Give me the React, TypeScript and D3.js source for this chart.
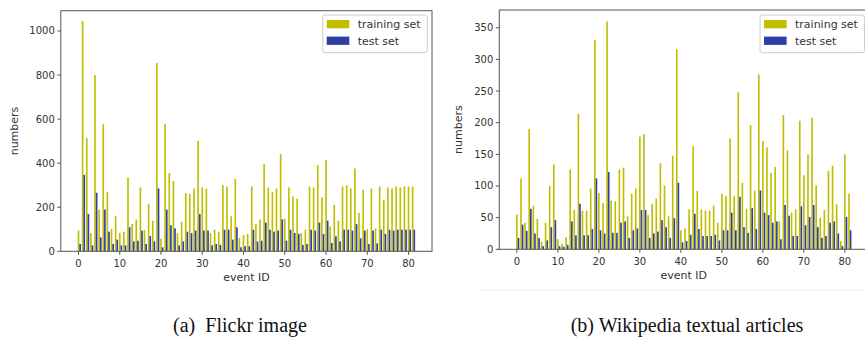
import * as d3 from "d3";

// ── Data ──────────────────────────────────────────────────────────────────────

const eventIds = d3.range(82);

const flickrTrain = [
  94, 1045, 514, 82, 800, 189, 577, 270, 101, 159, 83, 89, 335, 124, 144, 290, 97, 214, 139, 855,
  57, 577, 355, 320, 82, 134, 264, 260, 285, 501, 290, 285, 83, 98, 89, 300, 294, 159, 329, 60,
  74, 79, 294, 124, 144, 396, 290, 270, 285, 441, 148, 290, 249, 239, 83, 98, 294, 290, 391, 245,
  415, 113, 210, 139, 294, 300, 285, 376, 174, 279, 101, 285, 104, 294, 234, 290, 285, 294, 290, 294,
  294, 294,
];
const flickrTest = [
  33, 347, 169, 27, 266, 63, 190, 89, 33, 53, 27, 27, 109, 45, 48, 94, 33, 69, 45, 285,
  18, 189, 118, 104, 27, 45, 89, 83, 94, 169, 94, 94, 27, 33, 29, 98, 98, 53, 109, 18,
  23, 23, 98, 44, 48, 130, 98, 89, 94, 145, 48, 98, 83, 79, 29, 33, 98, 94, 130, 79,
  139, 38, 68, 45, 98, 98, 94, 124, 59, 94, 33, 94, 36, 98, 79, 98, 94, 98, 98, 98,
  98, 98,
];

const wikiTrain = [
  55, 112, 42, 190, 69, 48, 12, 42, 100, 134, 16, 9, 19, 126, 62, 214, 61, 61, 96, 331,
  89, 73, 360, 77, 76, 126, 129, 52, 88, 96, 178, 182, 54, 72, 80, 136, 101, 52, 148, 316,
  30, 33, 63, 163, 92, 63, 61, 61, 69, 42, 88, 84, 175, 84, 248, 105, 64, 196, 93, 276,
  171, 161, 121, 130, 44, 212, 156, 58, 63, 203, 117, 150, 208, 101, 50, 62, 124, 132, 71, 13,
  150, 88,
];
const wikiTest = [
  18, 39, 29, 64, 25, 18, 5, 14, 35, 46, 5, 4, 7, 44, 22, 72, 22, 22, 32, 112,
  30, 25, 122, 26, 26, 42, 44, 18, 30, 33, 62, 62, 18, 25, 28, 46, 35, 18, 49, 105,
  11, 13, 23, 56, 32, 21, 21, 21, 23, 14, 30, 30, 58, 30, 83, 35, 26, 65, 32, 93,
  58, 54, 42, 44, 16, 70, 53, 21, 21, 68, 38, 51, 70, 35, 18, 21, 42, 44, 25, 5,
  51, 30,
];

const xTicks = [0, 10, 20, 30, 40, 50, 60, 70, 80];
const flickrYTicks = [0, 200, 400, 600, 800, 1000];
const wikiYTicks = [0, 50, 100, 150, 200, 250, 300, 350];
const seriesNames = ["training set", "test set"];

// ── Style ─────────────────────────────────────────────────────────────────────

const TRAIN_COLOR = "#bfbf00";
const TEST_COLOR = "#2f3fa6";
const SPINE = "#555";
const FONT = "DejaVu Sans, sans-serif";
const BAR_W = 0.4;

// ── Panel ─────────────────────────────────────────────────────────────────────

interface PanelProps {
  train: number[];
  test: number[];
  yTicks: number[];
  yMax: number;
  left: number;
  right: number;
  top: number;
  bottom: number;
  legendX: number;
  ylabelX: number;
}

function Panel({ train, test, yTicks, yMax, left, right, top, bottom, legendX, ylabelX }: PanelProps) {
  const x = d3.scaleLinear().domain([-4.29, 85.69]).range([left, right]);
  const y = d3.scaleLinear().domain([0, yMax]).range([bottom, top]);
  const cx = (left + right) / 2;
  const cy = (top + bottom) / 2;

  return (
    <g fontFamily={FONT}>
      {eventIds.map((i) => (
        <g key={i}>
          <rect
            x={x(i - BAR_W / 2)}
            width={x(BAR_W) - x(0)}
            y={y(train[i])}
            height={y(0) - y(train[i])}
            fill={TRAIN_COLOR}
          />
          <rect
            x={x(i + BAR_W / 2)}
            width={x(BAR_W) - x(0)}
            y={y(test[i])}
            height={y(0) - y(test[i])}
            fill={TEST_COLOR}
          />
        </g>
      ))}

      {/* frame */}
      <rect x={left} y={top} width={right - left} height={bottom - top} fill="none" stroke={SPINE} strokeWidth={1} />

      {/* y axis */}
      {yTicks.map((t) => (
        <g key={t}>
          <line x1={left - 3.5} x2={left} y1={y(t)} y2={y(t)} stroke={SPINE} />
          <text x={left - 6} y={y(t)} dy="0.35em" textAnchor="end" fontSize={10} fill="#333">
            {t}
          </text>
        </g>
      ))}

      {/* x axis */}
      {xTicks.map((t) => (
        <g key={t}>
          <line x1={x(t)} x2={x(t)} y1={bottom} y2={bottom + 3.5} stroke={SPINE} />
          <text x={x(t)} y={bottom + 16} textAnchor="middle" fontSize={10} fill="#333">
            {t}
          </text>
        </g>
      ))}

      <text x={cx} y={bottom + 30} textAnchor="middle" fontSize={11} fill="#333">
        event ID
      </text>
      <text
        transform={`translate(${ylabelX},${cy}) rotate(-90)`}
        textAnchor="middle"
        dy="0.35em"
        fontSize={11}
        fill="#333"
      >
        numbers
      </text>

      {/* legend */}
      <g transform={`translate(${legendX},15)`}>
        <rect x={0} y={0} width={104.6} height={37.7} rx={2.5} fill="#fff" fillOpacity={0.85} stroke="#ccc" />
        {seriesNames.map((name, k) => (
          <g key={name} transform={`translate(0,${9.2 + k * 16.6})`}>
            <rect x={4} y={-4.2} width={22.6} height={8.3} fill={k === 0 ? TRAIN_COLOR : TEST_COLOR} />
            <text x={35} y={0} dy="0.35em" fontSize={11} fill="#333">
              {name}
            </text>
          </g>
        ))}
      </g>
    </g>
  );
}

// ── App ───────────────────────────────────────────────────────────────────────

export default function App() {
  return (
    <div style={{ position: "absolute", left: 0, top: 0 }}>
      <svg width={865} height={339} style={{ display: "block", background: "#fff" }}>
        <Panel
          train={flickrTrain}
          test={flickrTest}
          yTicks={flickrYTicks}
          yMax={1092}
          left={60.8}
          right={432}
          top={10.7}
          bottom={251.3}
          legendX={322.7}
          ylabelX={14}
        />
        <Panel
          train={wikiTrain}
          test={wikiTest}
          yTicks={wikiYTicks}
          yMax={378}
          left={499.3}
          right={868.2}
          top={10}
          bottom={249.3}
          legendX={760}
          ylabelX={458}
        />
        <line x1={480} x2={865} y1={290} y2={290} stroke="#ececec" />

        <text x={240} y={332} textAnchor="middle" fontFamily="Liberation Serif, serif" fontSize={20} fill="#111" xmlSpace="preserve">
          (a)  Flickr image
        </text>
        <text x={687} y={332} textAnchor="middle" fontFamily="Liberation Serif, serif" fontSize={20} fill="#111">
          (b) Wikipedia textual articles
        </text>
      </svg>
    </div>
  );
}
